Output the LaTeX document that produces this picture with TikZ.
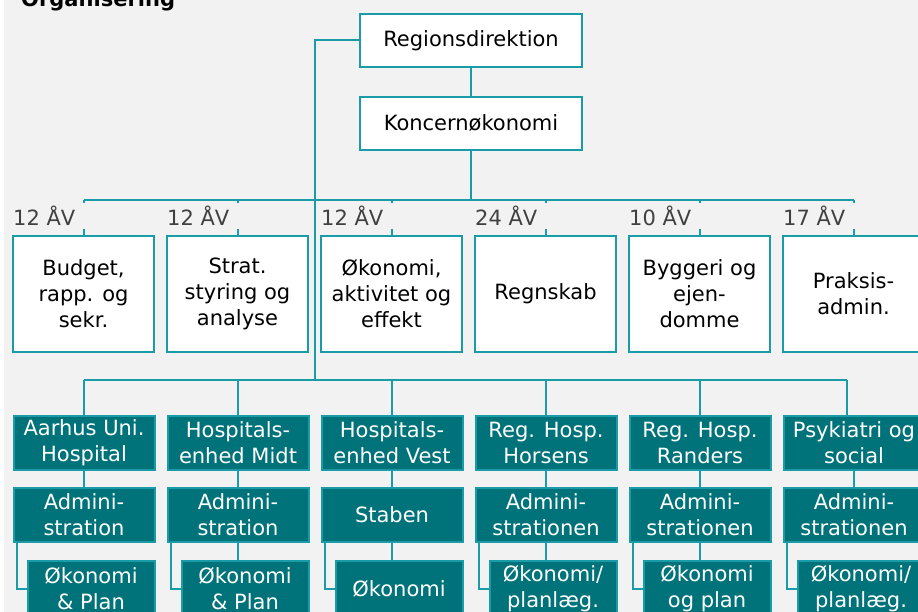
\documentclass[tikz,border=0pt]{standalone}
\usepackage{fontspec}
\setmainfont{DejaVu Sans}
\usetikzlibrary{positioning}
\definecolor{bggray}{HTML}{F2F2F2}
\definecolor{tealline}{RGB}{26,155,168}
\definecolor{tealfill}{RGB}{0,115,122}
\definecolor{avgray}{HTML}{404040}

\begin{document}
\begin{tikzpicture}[x=1pt,y=-1pt,font=\fontsize{21}{26}\selectfont]
\tikzset{basic/.style={draw=tealline,line width=2pt,inner sep=0pt,outer sep=0pt,align=center}}
\tikzset{head/.style={basic,fill=white,minimum width=222pt,minimum height=53pt}}
\tikzset{staff/.style={basic,fill=white,minimum width=141pt,minimum height=116pt}}
\tikzset{unit/.style={basic,fill=tealfill,text=white,minimum width=141pt,minimum height=54pt}}
\tikzset{econ/.style={unit,minimum width=127pt,minimum height=56pt}}
\tikzset{aev/.style={text=avgray,inner sep=3pt}}
\tikzset{link/.style={draw=tealline,line width=2pt}}
	\useasboundingbox (0,0) rectangle (918,612);
	\fill[white] (0,0) rectangle (918,612);
	\fill[bggray] (4,0) rectangle (918,612);
	\node[font=\fontsize{21}{26}\selectfont\bfseries,anchor=base west,inner sep=0pt] (title) at (21,7) {Organisering};
	% top
	\node[head] (reg) at (471,40.5) {Regionsdirektion};
	\node[head,below=30pt of reg] (kon) {Koncernøkonomi};
		\path[link] (reg) -- (kon);
	% staff units
	\node[staff] (s1) at (83.5,294) {Budget,\\rapp. og\\sekr.};
	\node[staff,right=13pt of s1] (s2) {Strat.\\styring og\\analyse};
	\node[staff,right=13pt of s2] (s3) {Økonomi,\\aktivitet og\\effekt};
	\node[staff,right=13pt of s3] (s4) {Regnskab};
	\node[staff,right=13pt of s4] (s5) {Byggeri og\\ejen-\\domme};
	\node[staff,right=13pt of s5] (s6) {Praksis-\\admin.};
	\node[aev,above left=7pt and 5pt of s1.north] (a1) {12 ÅV};
	\node[aev,above left=7pt and 5pt of s2.north] (a2) {12 ÅV};
	\node[aev,above left=7pt and 5pt of s3.north] (a3) {12 ÅV};
	\node[aev,above left=7pt and 5pt of s4.north] (a4) {24 ÅV};
	\node[aev,above left=7pt and 5pt of s5.north] (a5) {10 ÅV};
	\node[aev,above left=7pt and 5pt of s6.north] (a6) {17 ÅV};
	\coordinate (bus) at (0,200);
		\path[link] (kon) -- (kon |- bus);
		\path[link] (s1.north |- bus) -- (s6.north |- bus);
	\foreach \i in {1,...,6} {
		\path[link] (s\i.north |- bus) -- (s\i.north |- a\i.north);
		\path[link] (a\i.south -| s\i.north) -- (s\i.north);
	}
	% hospital units
	\node[unit] (h1) at (84,443) {Aarhus Uni.\\Hospital};
	\node[unit,right=13pt of h1] (h2) {Hospitals-\\enhed Midt};
	\node[unit,right=13pt of h2] (h3) {Hospitals-\\enhed Vest};
	\node[unit,right=13pt of h3] (h4) {Reg. Hosp.\\Horsens};
	\node[unit,right=13pt of h4] (h5) {Reg. Hosp.\\Randers};
	\node[unit,right=13pt of h5] (h6) {Psykiatri og\\social};
	\node[unit,below=18pt of h1] (d1) {Admini-\\stration};
	\node[unit,below=18pt of h2] (d2) {Admini-\\stration};
	\node[unit,below=18pt of h3] (d3) {Staben};
	\node[unit,below=18pt of h4] (d4) {Admini-\\strationen};
	\node[unit,below=18pt of h5] (d5) {Admini-\\strationen};
	\node[unit,below=18pt of h6] (d6) {Admini-\\strationen};
	\node[econ,below left=19pt and 0pt of d1.south east] (e1) {Økonomi\\\& Plan};
	\node[econ,below left=19pt and 0pt of d2.south east] (e2) {Økonomi\\\& Plan};
	\node[econ,below left=19pt and 0pt of d3.south east] (e3) {Økonomi};
	\node[econ,below left=19pt and 0pt of d4.south east] (e4) {Økonomi/\\planlæg.};
	\node[econ,below left=19pt and 0pt of d5.south east] (e5) {Økonomi\\og plan};
	\node[econ,below left=19pt and 0pt of d6.south east] (e6) {Økonomi/\\planlæg.};
	\coordinate (low) at (314.5,380);
		\path[link] (reg.west) -| (low);
		\path[link] (h1.north |- low) -- ([xshift=-7pt]h6.north |- low);
	\foreach \i/\dx in {1/0,2/0,3/0,4/0,5/0,6/-7} {
		\path[link] ([xshift=\dx pt]h\i.north |- low) -- ([xshift=\dx pt]h\i.north);
		\path[link] (h\i) -- (d\i);
		\path[link] ([xshift=3pt]d\i.south west) |- (e\i.west);
	}
	\foreach \i in {2,...,5}
		\path[link] (d\i) -- (d\i |- e\i.north);
\end{tikzpicture}
\end{document}
